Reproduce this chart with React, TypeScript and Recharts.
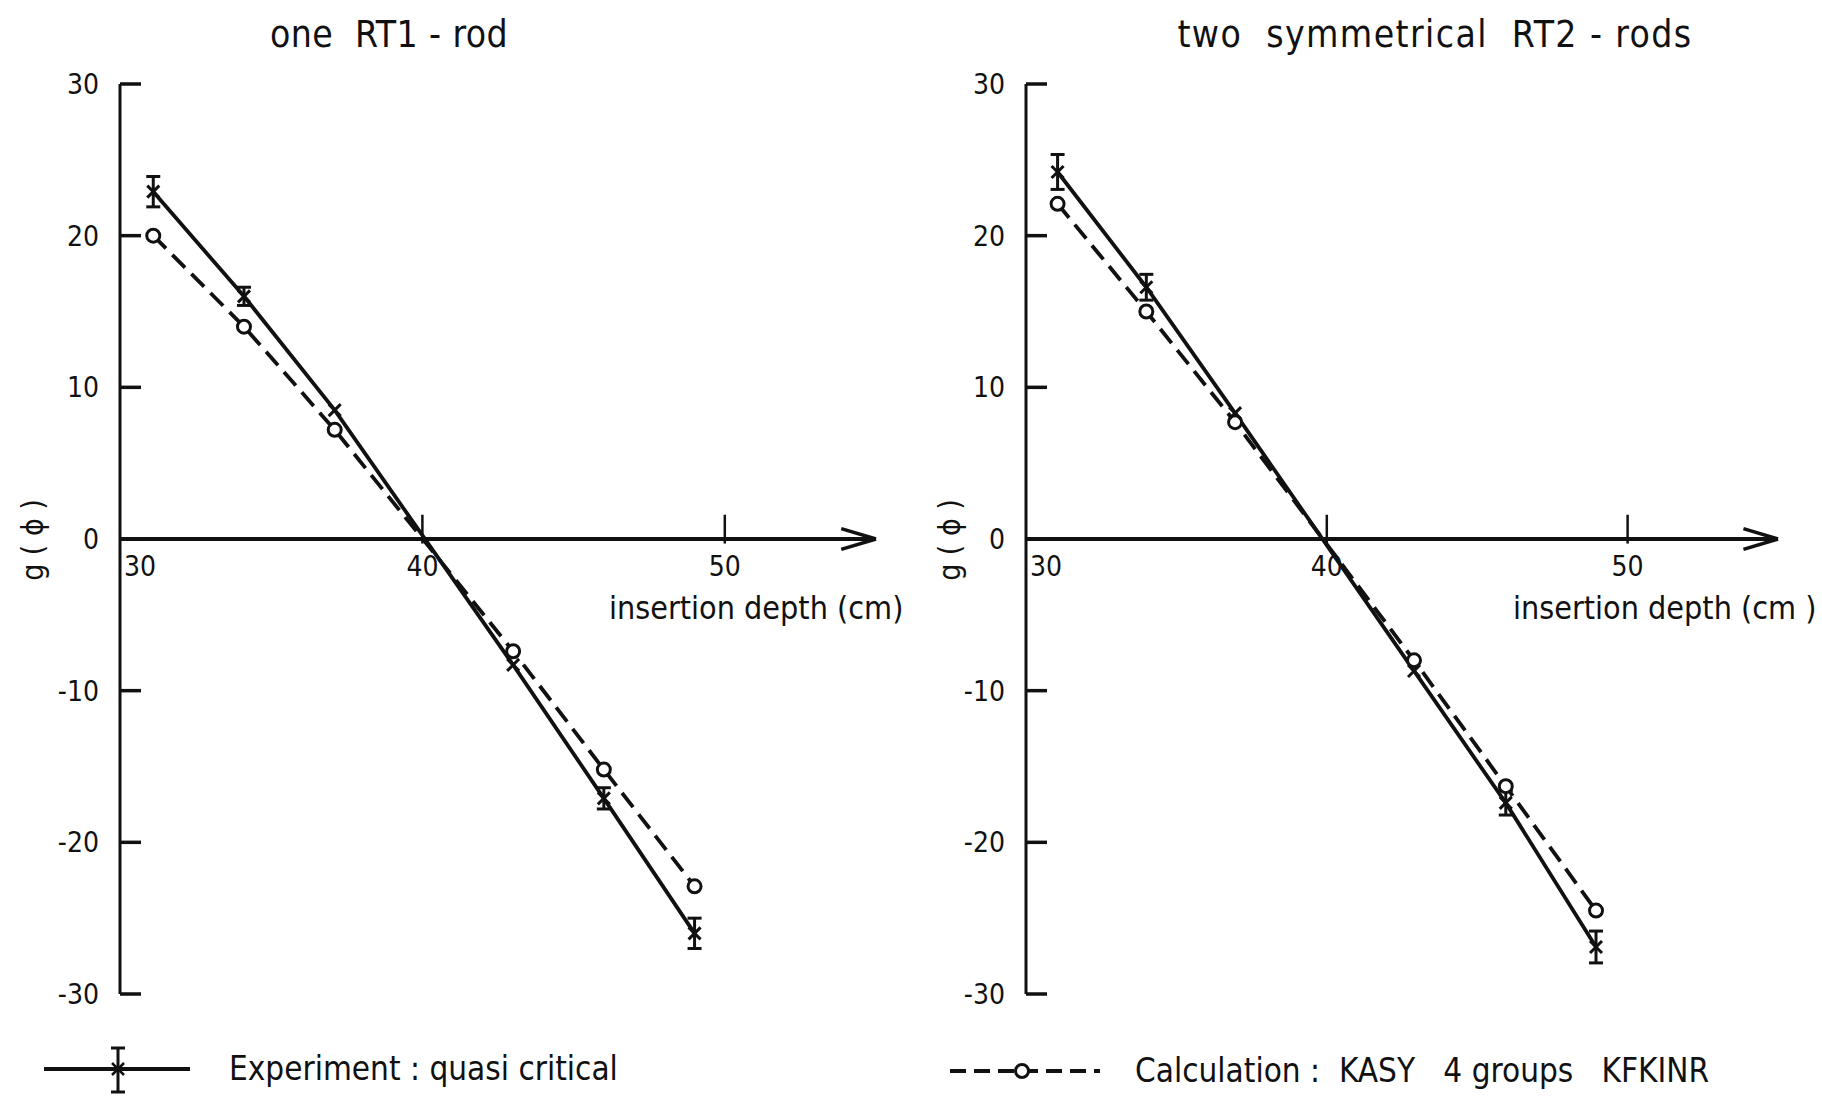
import React from 'react';
import { LineChart, Line, XAxis, YAxis, ErrorBar, ReferenceLine, ReferenceDot } from 'recharts';

// insertion depth (cm)
const depthOne = [31.1, 34.1, 37.1, 43.0, 46.0, 49.0];
const expOne = [22.9, 16.0, 8.5, -8.3, -17.1, -26.0];
const expErrOne = [1.0, 0.6, 0, 0, 0.7, 1.0];
const calcOne = [20.0, 14.0, 7.2, -7.4, -15.2, -22.9];

const depthTwo = [31.05, 34.0, 36.95, 42.9, 45.95, 48.95];
const expTwo = [24.2, 16.6, 8.3, -8.7, -17.4, -26.9];
const expErrTwo = [1.15, 0.85, 0, 0, 0.8, 1.05];
const calcTwo = [22.1, 15.0, 7.7, -8.0, -16.3, -24.5];

const yTicks = [-30, -20, -10, 0, 10, 20, 30];
const xTickLabels = [30, 40, 50];
const xTickMarks = [40, 50];
const xDomain: [number, number] = [30, 55];
const yDomain: [number, number] = [-30, 30];

const titles = ['one  RT1 - rod', 'two  symmetrical  RT2 - rods'];
const xAxisTitles = ['insertion depth (cm)', 'insertion depth (cm )'];
const yAxisTitle = 'g ( ϕ )';
const legendExp = 'Experiment : quasi critical';
const legendCalc = 'Calculation :  KASY   4 groups   KFKINR';

const FONT = "'DejaVu Sans Condensed', 'DejaVu Sans', sans-serif";
const INK = '#111';

const buildRows = (d: number[], e: number[], err: number[], c: number[]) =>
  d.map((x, i) => ({ depth: x, exp: e[i], err: err[i], calc: c[i] }));

const YTick = (props: any) => {
  const { x, y, payload } = props;
  return (
    <g>
      <line x1={x} x2={x + 21} y1={y} y2={y} stroke={INK} strokeWidth={3.5} />
      <text x={x - 21} y={y} dy="0.36em" textAnchor="end" fontFamily={FONT} fontSize={28} fill={INK}>
        {payload.value}
      </text>
    </g>
  );
};

const makeXLabel = (value: number, first: boolean) => (p: any) => {
  const vb = p.viewBox || {};
  const cx = vb.x + (vb.width || 0) / 2;
  const cy = vb.y + (vb.height || 0) / 2;
  return (
    <text
      x={first ? cx + 4 : cx}
      y={cy + 37}
      textAnchor={first ? 'start' : 'middle'}
      fontFamily={FONT}
      fontSize={28}
      fill={INK}
    >
      {value}
    </text>
  );
};

const ExpDot = (props: any) => {
  const { cx, cy, index } = props;
  if (cx == null || cy == null) return <g key={index} />;
  const s = 6;
  return (
    <g key={index}>
      <line x1={cx - s} y1={cy - s} x2={cx + s} y2={cy + s} stroke={INK} strokeWidth={3} />
      <line x1={cx - s} y1={cy + s} x2={cx + s} y2={cy - s} stroke={INK} strokeWidth={3} />
    </g>
  );
};

const CalcDot = (props: any) => {
  const { cx, cy, index } = props;
  if (cx == null || cy == null) return <g key={index} />;
  return <circle key={index} cx={cx} cy={cy} r={6.5} fill="#fff" stroke={INK} strokeWidth={3} />;
};

const Panel = ({ rows, margin, width }: any) => (
  <LineChart width={width} height={1099} data={rows} margin={margin}>
    <XAxis type="number" dataKey="depth" domain={xDomain} hide allowDataOverflow />
    <YAxis
      type="number"
      domain={yDomain}
      ticks={yTicks}
      width={60}
      tickSize={0}
      tickMargin={0}
      tickLine={false}
      axisLine={{ stroke: INK, strokeWidth: 3 }}
      tick={<YTick />}
      interval={0}
    />
    <ReferenceLine y={0} stroke={INK} strokeWidth={4} />
    <ReferenceLine segment={[{ x: 55, y: 0 }, { x: 53.85, y: 0.68 }]} stroke={INK} strokeWidth={3.5} />
    <ReferenceLine segment={[{ x: 55, y: 0 }, { x: 53.85, y: -0.68 }]} stroke={INK} strokeWidth={3.5} />
    {xTickMarks.map((t) => (
      <ReferenceLine key={'tm' + t} segment={[{ x: t, y: -0.3 }, { x: t, y: 1.6 }]} stroke={INK} strokeWidth={2.5} />
    ))}
    {xTickLabels.map((t, i) => (
      <ReferenceDot
        key={'tl' + t}
        x={t}
        y={0}
        r={1}
        fill="none"
        stroke="none"
        label={{ content: makeXLabel(t, i === 0) }}
      />
    ))}
    <Line
      dataKey="calc"
      stroke={INK}
      strokeWidth={3.8}
      strokeDasharray="18 9"
      dot={CalcDot}
      activeDot={false}
      isAnimationActive={false}
    />
    <Line
      dataKey="exp"
      stroke={INK}
      strokeWidth={3.8}
      dot={ExpDot}
      activeDot={false}
      isAnimationActive={false}
    >
      <ErrorBar dataKey="err" direction="y" width={7} stroke={INK} strokeWidth={3} isAnimationActive={false} />
    </Line>
  </LineChart>
);

const txt: React.CSSProperties = {
  position: 'absolute',
  fontFamily: FONT,
  color: INK,
  whiteSpace: 'pre',
  lineHeight: '44px',
  height: 44,
};

export default function App() {
  const rowsOne = buildRows(depthOne, expOne, expErrOne, calcOne);
  const rowsTwo = buildRows(depthTwo, expTwo, expErrTwo, calcTwo);
  return (
    <div style={{ position: 'absolute', left: 0, top: 0, width: 1822, height: 1099, background: '#fff', overflow: 'hidden' }}>
      <div style={{ position: 'absolute', left: 0, top: 0 }}>
        <Panel rows={rowsOne} width={911} margin={{ top: 84, bottom: 105, left: 60, right: 35 }} />
      </div>
      <div style={{ position: 'absolute', left: 911, top: 0 }}>
        <Panel rows={rowsTwo} width={911} margin={{ top: 84, bottom: 105, left: 55, right: 44 }} />
      </div>

      <div style={{ ...txt, left: 89, width: 600, top: 13, textAlign: 'center', fontSize: 37, letterSpacing: 0.4 }}>{titles[0]}</div>
      <div style={{ ...txt, left: 1135, width: 600, top: 13, textAlign: 'center', fontSize: 37, letterSpacing: 1.4 }}>{titles[1]}</div>

      <div style={{ ...txt, left: 609, top: 586, fontSize: 32 }}>{xAxisTitles[0]}</div>
      <div style={{ ...txt, left: 1513, top: 586, fontSize: 32 }}>{xAxisTitles[1]}</div>

      <div style={{ ...txt, left: 33 - 70, top: 518, width: 140, textAlign: 'center', fontSize: 30, transform: 'rotate(-90deg)' }}>
        {yAxisTitle}
      </div>
      <div style={{ ...txt, left: 950 - 70, top: 518, width: 140, textAlign: 'center', fontSize: 30, transform: 'rotate(-90deg)' }}>
        {yAxisTitle}
      </div>

      <svg style={{ position: 'absolute', left: 40, top: 1044 }} width={160} height={52}>
        <line x1={4} x2={150} y1={25} y2={25} stroke={INK} strokeWidth={4} />
        <line x1={78} x2={78} y1={4} y2={48} stroke={INK} strokeWidth={3} />
        <line x1={71} x2={85} y1={4} y2={4} stroke={INK} strokeWidth={3} />
        <line x1={71} x2={85} y1={48} y2={48} stroke={INK} strokeWidth={3} />
        <line x1={72} x2={84} y1={19} y2={31} stroke={INK} strokeWidth={2.5} />
        <line x1={72} x2={84} y1={31} y2={19} stroke={INK} strokeWidth={2.5} />
      </svg>
      <div style={{ ...txt, left: 229, top: 1047, fontSize: 33 }}>{legendExp}</div>

      <svg style={{ position: 'absolute', left: 946, top: 1044 }} width={160} height={52}>
        <line x1={4} x2={154} y1={27} y2={27} stroke={INK} strokeWidth={4} strokeDasharray="16 8" />
        <circle cx={76} cy={27} r={6.5} fill="#fff" stroke={INK} strokeWidth={3} />
      </svg>
      <div style={{ ...txt, left: 1135, top: 1049, fontSize: 33 }}>{legendCalc}</div>
    </div>
  );
}
